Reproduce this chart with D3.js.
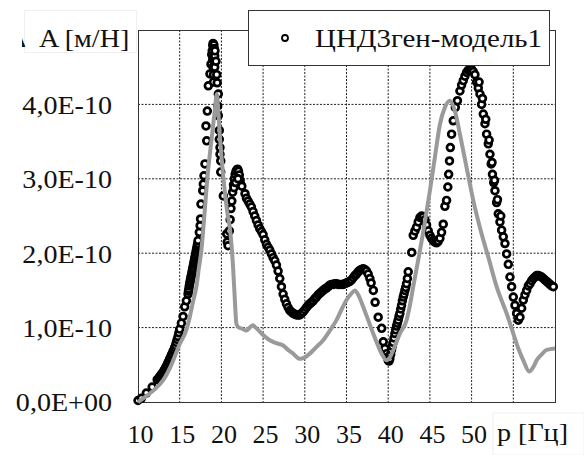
<!DOCTYPE html>
<html>
<head>
<meta charset="utf-8">
<script src="https://cdn.jsdelivr.net/npm/d3@7"></script>
<style>
  body { margin: 0; background: #fff; }
</style>
</head>
<body>
<script>
// values in units of 1E-10 m/N
var xTicks = [10, 15, 20, 25, 30, 35, 40, 45, 50, 55, 60],
    xTickLabels = ["10", "15", "20", "25", "30", "35", "40", "45", "50", "", ""],
    yTicks = [0, 1, 2, 3, 4, 5],
    yTickLabels = ["0,0E+00", "1,0E-10", "2,0E-10", "3,0E-10", "4,0E-10", ""];

var seriesName = "ЦНД3ген-модель1",
    yTitleHidden = "Δ", yTitle = "A [м/Н]",
    xTitle = "p [Гц]";

// gray line (second curve, not in legend)
var lineF = [10, 11, 12, 13, 14, 15, 15.8, 16.2, 16.6, 17.0, 17.3, 17.6, 18.0, 18.4, 18.8, 19.2, 19.45, 19.6, 19.8, 20.2, 20.8, 21.0, 21.4, 21.6, 21.8, 22.1, 22.4, 23.0, 23.4, 23.8, 24.1, 24.4, 25.0, 25.8, 26.6, 27.4, 28.0, 28.6, 29.4, 30.0, 30.6, 31.4, 32.2, 33.0, 33.8, 34.4, 35.0, 35.6, 36.0, 36.5, 37.0, 37.6, 38.2, 38.7, 39.2, 39.8, 40.2, 40.8, 41.4, 42.2, 42.6, 43.0, 43.7, 44.3, 45.0, 45.6, 46.2, 46.8, 47.4, 48.0, 48.6, 49.4, 50.2, 51.2, 52.0, 53.0, 54.2, 55.0, 55.6, 56.2, 56.9, 57.4, 57.8, 58.4, 59.0, 60.0],
    lineA = [0, 0.08, 0.17, 0.29, 0.5, 0.78, 0.97, 1.14, 1.35, 1.55, 1.8, 2.04, 2.57, 3.11, 3.51, 3.91, 4.14, 3.95, 3.6, 3.06, 2.48, 2.35, 1.81, 1.4, 1.05, 1.0, 0.99, 0.96, 1.0, 1.03, 1.0, 0.97, 0.9, 0.83, 0.79, 0.76, 0.7, 0.65, 0.58, 0.6, 0.65, 0.74, 0.83, 0.96, 1.1, 1.24, 1.37, 1.46, 1.5, 1.42, 1.28, 1.1, 0.92, 0.78, 0.65, 0.56, 0.6, 0.75, 0.92, 1.1, 1.3, 1.55, 1.97, 2.35, 2.84, 3.29, 3.73, 3.96, 4.05, 3.91, 3.6, 3.15, 2.71, 2.26, 1.95, 1.55, 1.19, 0.92, 0.72, 0.56, 0.41, 0.47, 0.56, 0.64, 0.7, 0.72];

// open circles: [frequency, amplitude]
var circlePts = [
  [10.0,0.02],[10.4,0.05],[11.0,0.12],[11.7,0.2],[12.3,0.3],[12.5,0.32],[12.6,0.34],[12.7,0.35],[12.8,0.37],[12.9,0.38],[13.0,0.4],
  [13.1,0.42],[13.2,0.44],[13.3,0.46],[13.4,0.48],[13.5,0.5],[13.6,0.53],[13.7,0.55],[13.8,0.58],[13.9,0.6],[14.0,0.63],
  [14.1,0.65],[14.2,0.68],[14.3,0.7],[14.4,0.73],[14.5,0.76],[14.6,0.8],[14.7,0.84],[14.8,0.88],[14.9,0.93],[15.0,0.98],
  [15.2,1.06],[15.4,1.15],[15.6,1.28],[15.8,1.36],[16.0,1.45],[16.05,1.49],[16.1,1.52],[16.15,1.56],[16.2,1.59],[16.25,1.62],
  [16.3,1.65],[16.35,1.68],[16.4,1.7],[16.45,1.73],[16.5,1.76],[16.55,1.79],[16.6,1.81],[16.65,1.84],[16.7,1.87],[16.75,1.9],
  [16.8,1.93],[16.85,1.95],[16.9,1.98],[16.95,2.01],[17.0,2.04],[17.05,2.07],[17.1,2.1],[17.15,2.13],[17.2,2.17],
  [17.35,2.28],[17.45,2.37],[17.5,2.46],[17.55,2.66],[17.76,2.84],
  [17.83,2.93],[17.91,3.04],[18.03,3.2],[18.24,3.51],[18.15,3.71],[18.31,3.91],[18.43,4.25],[18.63,4.41],[18.75,4.54],[18.84,4.67],
  [18.96,4.79],[18.9,4.72],[18.95,4.6],[19.0,4.5],[19.05,4.4],[19.0,4.82],[19.1,4.8],[19.15,4.75],[19.1,4.62],[19.2,4.5],
  [19.05,4.3],[19.2,4.65],[19.23,4.72],[19.35,4.58],[19.44,4.4],[19.5,4.29],[19.63,4.14],[19.56,3.98],[19.63,3.85],[19.75,3.65],
  [19.75,3.53],[19.83,3.42],[19.83,3.33],[19.92,3.24],[19.92,3.09],[20.23,2.77],[20.64,2.26],[20.7,2.15],[20.8,2.1],[20.95,2.3],
  [21.05,2.45],[21.15,2.6],[21.25,2.7],[21.35,2.82],[21.45,2.92],[21.55,3.0],[21.65,3.06],[21.75,3.1],[21.85,3.12],[21.95,3.13],
  [22.05,3.1],[22.15,3.05],[22.25,2.98],[22.35,2.92],[22.45,2.9],[21.5,2.88],[21.7,2.95],[22.0,3.0],[22.83,2.8],
  [23.0,2.74],[23.2,2.7],[23.4,2.66],[23.6,2.62],[23.8,2.56],[24.0,2.5],[24.2,2.44],[24.4,2.38],[24.6,2.33],[24.8,2.29],
  [25.0,2.25],[25.2,2.18],[25.4,2.12],[25.6,2.08],[25.8,2.04],[26.0,1.99],[26.2,1.94],[26.4,1.9],[26.6,1.84],[26.8,1.76],
  [27.0,1.66],[27.2,1.55],[27.4,1.45],[27.6,1.38],[27.8,1.32],[28.0,1.27],[28.2,1.23],[28.4,1.21],[28.6,1.19],[28.8,1.18],
  [29.0,1.17],[29.2,1.17],[29.4,1.17],[29.6,1.19],[29.8,1.21],[30.0,1.24],[30.2,1.27],[30.4,1.3],[30.6,1.32],[30.8,1.34],
  [31.0,1.36],[31.2,1.39],[31.4,1.41],[31.6,1.44],[31.8,1.46],[32.0,1.48],[32.2,1.5],[32.4,1.52],[32.6,1.53],[32.8,1.55],
  [33.0,1.57],[33.2,1.58],[33.4,1.58],[33.6,1.59],[33.8,1.59],[34.0,1.58],[34.2,1.58],[34.4,1.58],[34.6,1.58],[34.8,1.59],
  [35.0,1.6],[35.2,1.61],[35.4,1.62],[35.6,1.64],[35.8,1.67],[36.0,1.7],[36.2,1.72],[36.4,1.75],[36.6,1.77],[36.8,1.78],
  [37.0,1.79],[37.2,1.78],[37.4,1.76],[37.6,1.72],[37.8,1.66],[37.95,1.6],[38.22,1.5],[38.43,1.34],[38.8,1.14],[39.22,0.99],
  [39.41,0.81],[39.6,0.72],[39.82,0.65],[39.9,0.6],[40.0,0.56],[40.1,0.55],[40.2,0.58],[40.3,0.64],[40.4,0.7],[40.5,0.75],
  [40.6,0.8],[40.7,0.86],[40.8,0.92],[40.9,0.97],[41.0,1.02],[41.1,1.06],[41.2,1.1],[41.3,1.15],[41.4,1.19],[41.5,1.25],
  [41.6,1.3],[41.7,1.36],[41.8,1.41],[41.9,1.45],[42.0,1.5],[42.1,1.54],[42.2,1.59],[42.3,1.66],[42.4,1.75],[42.82,2.01],
  [43.0,2.24],[43.2,2.3],[43.4,2.35],[43.6,2.42],[43.8,2.48],[44.0,2.5],[44.2,2.49],[44.4,2.45],[44.6,2.38],[44.8,2.3],
  [45.0,2.24],[45.2,2.2],[45.4,2.17],[45.6,2.15],[45.8,2.14],[46.0,2.16],[46.2,2.2],[46.4,2.28],[46.6,2.39],[46.8,2.63],
  [47.0,2.71],[47.15,2.89],[47.25,3.06],[47.35,3.24],[47.45,3.42],[47.6,3.6],[47.8,3.78],[48.05,3.96],[48.3,4.05],[48.6,4.18],
  [48.8,4.26],[49.0,4.32],[49.2,4.38],[49.4,4.43],[49.6,4.46],[49.8,4.47],[50.0,4.47],[50.2,4.44],[50.4,4.4],[50.6,4.3],
  [50.8,4.22],[51.0,4.14],[51.2,4.0],[51.4,3.87],[51.6,3.74],[51.8,3.6],[52.0,3.47],[52.2,3.33],[52.35,3.2],[52.5,3.06],
  [52.65,2.95],[52.8,2.84],[53.0,2.68],[53.2,2.53],[53.4,2.42],[53.6,2.31],[53.8,2.22],[54.0,2.13],[54.2,1.99],[54.4,1.85],
  [50.9,4.3],[51.3,4.08],[51.7,3.8],[52.1,3.52],[52.45,3.22],[52.75,2.98],[53.1,2.72],[53.5,2.5],
  [54.6,1.68],[54.8,1.55],[55.0,1.41],[55.2,1.3],[55.4,1.19],[55.6,1.1],[55.8,1.14],[56.0,1.26],[56.2,1.37],[56.4,1.44],
  [56.6,1.5],[56.8,1.56],[57.0,1.59],[57.2,1.63],[57.4,1.66],[57.6,1.68],[57.8,1.7],[58.0,1.7],[58.2,1.69],[58.4,1.68],
  [58.6,1.66],[58.8,1.64],[59.0,1.62],[59.2,1.6],[59.4,1.58],[59.6,1.56],[59.8,1.55]
];

/***********************************************************************************************/

var width = 584, height = 455,
    plot = { left: 138, top: 30, right: 555, bottom: 402 },
    fontSize = 26,
    serif = "'Liberation Serif'",
    stretch = "scale(1.08,1)";

var svg = d3.select("body").append("svg")
    .attr("width", width).attr("height", height);

var xScale = d3.scaleLinear().domain([10, 60]).range([plot.left, plot.right]),
    yScale = d3.scaleLinear().domain([0, 5]).range([plot.bottom, plot.top]);

// grid
var grid = svg.append("g").attr("class", "grid");
grid.selectAll(".vgrid").data(xTicks.slice(1, -1)).enter().append("line")
    .attr("x1", d => xScale(d)).attr("x2", d => xScale(d))
    .attr("y1", plot.top).attr("y2", plot.bottom)
    .style("stroke", "#222").style("stroke-width", 1).style("stroke-dasharray", "2,1.5");
grid.selectAll(".hgrid").data(yTicks.slice(1, -1)).enter().append("line")
    .attr("x1", plot.left).attr("x2", plot.right)
    .attr("y1", d => yScale(d)).attr("y2", d => yScale(d))
    .style("stroke", "#222").style("stroke-width", 1).style("stroke-dasharray", "2,1.5");

svg.append("rect")
    .attr("x", plot.left + 0.5).attr("y", plot.top + 0.5)
    .attr("width", plot.right - plot.left).attr("height", plot.bottom - plot.top)
    .style("fill", "none").style("stroke", "#333").style("stroke-width", 1);

// axes (labels only, like the original)
var xAxis = d3.axisBottom(xScale).tickValues(xTicks).tickSize(0).tickPadding(0)
    .tickFormat((d, i) => xTickLabels[i]);
var gx = svg.append("g").attr("transform", "translate(0," + 443 + ")").call(xAxis)
    .attr("font-family", serif).attr("font-size", fontSize);
gx.select(".domain").remove();
gx.selectAll("text").attr("dy", 0).attr("y", 0).attr("x", 2).attr("fill", "#111");

var yAxis = d3.axisLeft(yScale).tickValues(yTicks).tickSize(0).tickPadding(0)
    .tickFormat((d, i) => yTickLabels[i]);
var gy = svg.append("g").attr("transform", "translate(" + 112 + ",0)").call(yAxis)
    .attr("font-family", serif).attr("font-size", fontSize);
gy.select(".domain").remove();
gy.selectAll("text").attr("dy", "0.34em").attr("fill", "#111").attr("transform", stretch);

/***********************************************************************************************/

// series
svg.append("g").selectAll("circle").data(circlePts).enter().append("circle")
    .attr("cx", d => xScale(d[0])).attr("cy", d => yScale(d[1])).attr("r", 3.4)
    .style("fill", "#fff").style("stroke", "#000").style("stroke-width", 2.7);

var line = d3.line().x(d => xScale(d[0])).y(d => yScale(d[1])).curve(d3.curveMonotoneX);
svg.append("path").datum(lineF.map((f, i) => [f, lineA[i]]))
    .attr("d", line)
    .style("fill", "none").style("stroke", "#9a9a9a").style("stroke-width", 4)
    .style("stroke-linejoin", "round");

/***********************************************************************************************/

// legend
var lg = svg.append("g");
lg.append("rect").attr("x", 248.5).attr("y", 10.5).attr("width", 301).attr("height", 55)
    .style("fill", "#fff").style("stroke", "#333").style("stroke-width", 1);
lg.append("circle").attr("cx", 285).attr("cy", 38).attr("r", 3)
    .style("fill", "#fff").style("stroke", "#000").style("stroke-width", 1.8);
lg.append("text").attr("x", 315).attr("y", 47).text(seriesName)
    .attr("textLength", 227).attr("lengthAdjust", "spacingAndGlyphs")
    .attr("font-family", serif).attr("font-size", fontSize).attr("fill", "#111");

// axis title in its white box; the box cuts off the leading glyph, as in the original
svg.append("clipPath").attr("id", "ytclip").append("rect")
    .attr("x", 22).attr("y", 8).attr("width", 115).attr("height", 46);
var yt = svg.append("g").attr("clip-path", "url(#ytclip)");
yt.append("rect").attr("x", 24.5).attr("y", 10.5).attr("width", 112).attr("height", 42)
    .style("fill", "#fff").style("stroke", "#f0f0f0");
var ytText = yt.append("text").attr("transform", "translate(8,47) " + stretch)
    .attr("font-family", serif).attr("font-size", fontSize).attr("fill", "#111");
ytText.append("tspan").text(yTitleHidden);
ytText.append("tspan").attr("dx", 12).text(yTitle);

svg.append("rect").attr("x", 493).attr("y", 413).attr("width", 91).attr("height", 42)
    .style("fill", "#fff").style("stroke", "#f0f0f0");
svg.append("text").attr("transform", "translate(497,441) " + stretch).text(xTitle)
    .attr("font-family", serif).attr("font-size", fontSize).attr("fill", "#111");
</script>
</body>
</html>
